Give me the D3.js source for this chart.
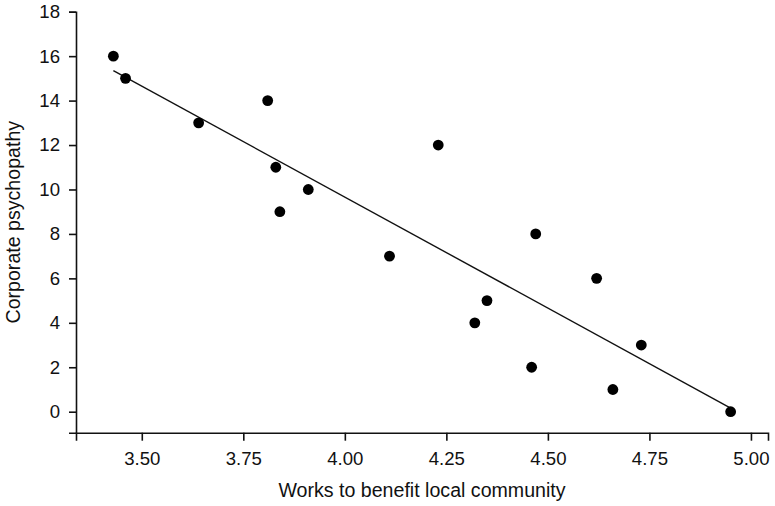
<!DOCTYPE html>
<html>
<head>
<meta charset="utf-8">
<script src="https://cdn.jsdelivr.net/npm/d3@7"></script>
<style>
  body { margin: 0; background: #fff; }
  svg text { font-family: "Liberation Sans", Arial, sans-serif; fill: #111; }
</style>
</head>
<body>
<div id="chart"></div>
<script>
// community benefit score vs corporate psychopathy, one dot per company
var benefit = [3.43, 3.46, 3.64, 3.81, 3.83, 3.84, 3.91, 4.11, 4.23, 4.32, 4.35, 4.46, 4.47, 4.62, 4.66, 4.73, 4.95];
var psychopathy = [16, 15, 13, 14, 11, 9, 10, 7, 12, 4, 5, 2, 8, 6, 1, 3, 0];
var xTicks = [3.50, 3.75, 4.00, 4.25, 4.50, 4.75, 5.00];
var yTicks = [0, 2, 4, 6, 8, 10, 12, 14, 16, 18];

var width = 775, height = 506;
var margin = {top: 11.7, right: 7, bottom: 73.3, left: 76};

var svg = d3.select("#chart").append("svg")
    .attr("width", width)
    .attr("height", height);

var x = d3.scaleLinear()
    .domain([3.338, 5.042])
    .range([margin.left, width - margin.right]);

var y = d3.scaleLinear()
    .domain([-0.945, 18])
    .range([height - margin.bottom, margin.top]);

var data = benefit.map(function(d, i) { return {x: d, y: psychopathy[i]}; });

/* axes */
var xAxis = svg.append("g")
    .attr("transform", "translate(0," + (height - margin.bottom) + ")")
    .call(d3.axisBottom(x).tickValues(xTicks).tickFormat(d3.format(".2f")).tickSizeOuter(0).tickSize(8).tickPadding(11));

var yAxis = svg.append("g")
    .attr("transform", "translate(" + margin.left + ",0)")
    .call(d3.axisLeft(y).tickValues(yTicks).tickSizeOuter(0).tickSize(7).tickPadding(9));

[xAxis, yAxis].forEach(function(a) {
    a.select(".domain").attr("stroke", "#111").attr("stroke-width", 1.6);
    a.selectAll(".tick line").attr("stroke", "#111").attr("stroke-width", 1.6);
    a.selectAll(".tick text").style("font-size", "18.6px").attr("fill", "#111");
});

/* least squares line */
var mx = d3.mean(benefit), my = d3.mean(psychopathy);
var sxy = d3.sum(data, function(d) { return (d.x - mx) * (d.y - my); });
var sxx = d3.sum(data, function(d) { return (d.x - mx) * (d.x - mx); });
var slope = sxy / sxx, icpt = my - slope * mx;
var ext = d3.extent(benefit);

svg.append("line")
    .attr("x1", x(ext[0])).attr("y1", y(icpt + slope * ext[0]))
    .attr("x2", x(ext[1])).attr("y2", y(icpt + slope * ext[1]))
    .attr("stroke", "#111")
    .attr("stroke-width", 1.4);

svg.selectAll(".dot")
    .data(data)
    .enter().append("circle")
    .attr("class", "dot")
    .attr("cx", function(d) { return x(d.x); })
    .attr("cy", function(d) { return y(d.y); })
    .attr("r", 5.4)
    .attr("fill", "#000");

/* axis titles */
svg.append("text")
    .attr("x", (margin.left + width - margin.right) / 2)
    .attr("y", 497)
    .attr("text-anchor", "middle")
    .style("font-size", "19.6px")
    .text("Works to benefit local community");

svg.append("text")
    .attr("transform", "translate(20," + ((margin.top + height - margin.bottom) / 2) + ") rotate(-90)")
    .attr("text-anchor", "middle")
    .style("font-size", "19.6px")
    .text("Corporate psychopathy");
</script>
</body>
</html>
